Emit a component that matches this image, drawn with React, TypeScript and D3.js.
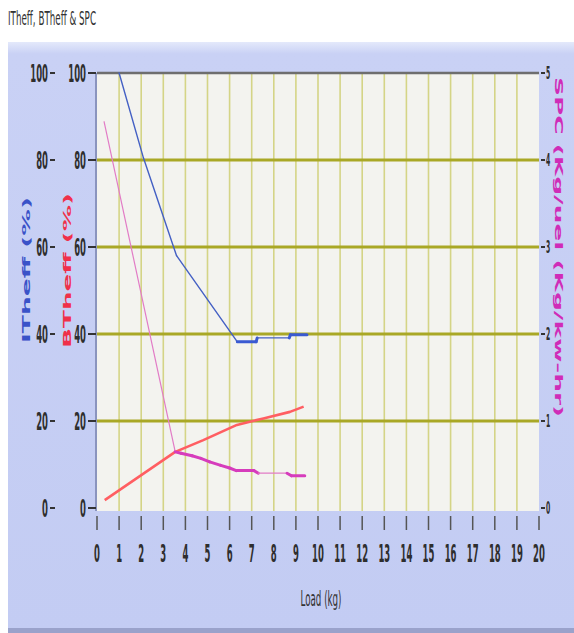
import React from "react"
import { scaleLinear, line } from "d3"

// tick labels
const xTicks = [0, 1, 2, 3, 4, 5, 6, 7, 8, 9, 10, 11, 12, 13, 14, 15, 16, 17, 18, 19, 20]
const pctTicks = [0, 20, 40, 60, 80, 100]
const spcTicks = [0, 1, 2, 3, 4, 5]

// series
const itheffLoad = [1, 2.1, 3.6, 6.35, 7.2, 7.25, 8.7, 8.75, 9.5]
const itheff = [100, 80.5, 58, 38.2, 38.2, 39.1, 39.1, 39.8, 39.8]
const btheffLoad = [0.35, 3.54, 4.81, 6.33, 7.53, 8.73, 9.35]
const btheff = [1.8, 12.9, 15.6, 19.1, 20.6, 22.1, 23.3]
const spcLoad = [0.32, 3.54, 3.8, 4.3, 4.7, 5.1, 5.6, 6.0, 6.3, 7.1, 7.3, 8.6, 8.8, 9.4]
const spc = [4.44, 0.645, 0.63, 0.6, 0.57, 0.53, 0.49, 0.46, 0.43, 0.43, 0.4, 0.4, 0.37, 0.37]

const FONT = "DejaVu Sans"
const SQ = 0.34 // horizontal squash of the original picture

type P = [number, number]

const App = () => {
  const width = 574
  const height = 633
  const plot = { left: 97, right: 539, top: 73, bottom: 508 }

  const x = scaleLinear().domain([0, 20]).range([plot.left, plot.right])
  const yPct = scaleLinear().domain([0, 100]).range([plot.bottom, plot.top])
  const ySpc = scaleLinear().domain([0, 5]).range([plot.bottom, plot.top])

  const lineGen = line<P>()
    .x((d) => x(d[0]))
    .y((d) => d[1])

  const itheffPts: P[] = itheffLoad.map((l, i) => [l, yPct(itheff[i])])
  const btheffPts: P[] = btheffLoad.map((l, i) => [l, yPct(btheff[i])])
  const spcPts: P[] = spcLoad.map((l, i) => [l, ySpc(spc[i])])

  // sparse (long) segments are drawn thin, dense ones thick
  const segments = (pts: P[], thin: number, thick: number, c1: string, c2: string) =>
    pts.slice(1).map((p, i) => {
      const long = p[0] - pts[i][0] >= 1
      return (
        <path
          key={i}
          d={lineGen([pts[i], p]) ?? ""}
          stroke={long ? c1 : c2}
          strokeWidth={long ? thin : thick}
          fill="none"
          strokeLinecap="round"
        />
      )
    })

  const sqText = (
    key: string | number,
    tx: number,
    ty: number,
    txt: string,
    size: number,
    anchor: string,
    fill = "#2e2e2e",
  ) => (
    <text
      key={key}
      transform={`translate(${tx},${ty}) scale(${SQ},1)`}
      fontSize={size}
      fontFamily={FONT}
      fontWeight="bold"
      textAnchor={anchor}
      fill={fill}
    >
      {txt}
    </text>
  )

  return (
    <div style={{ position: "absolute", left: 0, top: 0 }}>
      <svg width={width} height={height} style={{ display: "block" }}>
        <defs>
          <linearGradient id="panel" x1="0" y1="0" x2="0" y2="1">
            <stop offset="0" stopColor="#e4e9fb" />
            <stop offset="0.02" stopColor="#c9d1f5" />
            <stop offset="1" stopColor="#c3ccf3" />
          </linearGradient>
        </defs>
        <rect width={width} height={height} fill="#fff" />
        <rect x={8} y={42} width={width - 8} height={height - 42} fill="url(#panel)" />
        <rect x={8} y={628} width={width - 8} height={5} fill="#9aa2cb" />

        {/* title */}
        <text
          x={8}
          y={25}
          fontSize={19}
          fontFamily={FONT}
          fill="#333"
          textLength={88}
          lengthAdjust="spacingAndGlyphs"
        >
          ITheff, BTheff &amp; SPC
        </text>

        {/* plot background */}
        <rect
          x={plot.left}
          y={plot.top}
          width={plot.right - plot.left}
          height={plot.bottom - plot.top + 3}
          fill="#f3f3ef"
        />

        {/* vertical grid */}
        {xTicks.slice(1, -1).map((t) => (
          <line
            key={t}
            x1={x(t)}
            x2={x(t)}
            y1={plot.top}
            y2={plot.bottom + 3}
            stroke="#d4d486"
            strokeWidth={1.6}
          />
        ))}

        {/* horizontal grid */}
        {pctTicks.slice(1, -1).map((t) => (
          <line
            key={t}
            x1={plot.left}
            x2={plot.right}
            y1={yPct(t)}
            y2={yPct(t)}
            stroke="#a9a826"
            strokeWidth={3}
          />
        ))}
        <line
          x1={plot.left}
          x2={plot.right}
          y1={plot.top}
          y2={plot.top}
          stroke="#6e6e6e"
          strokeWidth={2.5}
        />
        <line
          x1={plot.left - 1}
          x2={plot.left - 1}
          y1={plot.top}
          y2={plot.bottom + 3}
          stroke="#8a94be"
          strokeWidth={2}
        />

        {/* series */}
        {segments(itheffPts, 1.4, 3, "#4460c4", "#3a5ad2")}
        <path
          d={lineGen(btheffPts) ?? ""}
          stroke="#ff5e62"
          strokeWidth={2.6}
          fill="none"
          strokeLinejoin="round"
        />
        {segments(spcPts, 1.2, 3, "#e27cc6", "#d63cbc")}

        {/* left axes */}
        {pctTicks.map((t) => (
          <g key={t}>
            <line x1={50} x2={55} y1={yPct(t)} y2={yPct(t)} stroke="#333" strokeWidth={2} />
            {sqText("o" + t, 48, yPct(t) + 9, String(t), 25, "end")}
            <line x1={88} x2={96} y1={yPct(t)} y2={yPct(t)} stroke="#333" strokeWidth={2} />
            {sqText("i" + t, 86, yPct(t) + 9, String(t), 25, "end")}
          </g>
        ))}

        {/* right axis */}
        {spcTicks.map((t) => (
          <g key={t}>
            <line x1={541} x2={545} y1={ySpc(t)} y2={ySpc(t)} stroke="#333" strokeWidth={2} />
            {sqText("r" + t, 546, ySpc(t) + 6, String(t), 18, "start")}
          </g>
        ))}

        {/* bottom axis */}
        {xTicks.map((t) => (
          <g key={t}>
            <line x1={x(t)} x2={x(t)} y1={516} y2={530} stroke="#555" strokeWidth={1.5} />
            {sqText("b" + t, x(t), 562, String(t), 25, "middle")}
          </g>
        ))}

        {/* axis titles */}
        <text
          transform="translate(321,606)"
          fontSize={22}
          fontFamily={FONT}
          fill="#333"
          textAnchor="middle"
          textLength={41}
          lengthAdjust="spacingAndGlyphs"
        >
          Load (kg)
        </text>
        <text
          transform="translate(30,343) rotate(-90)"
          fontSize={11}
          fontFamily={FONT}
          fontWeight="bold"
          fill="#3a52c8"
          textLength={146}
          lengthAdjust="spacingAndGlyphs"
        >
          ITheff (%)
        </text>
        <text
          transform="translate(71,348) rotate(-90)"
          fontSize={11}
          fontFamily={FONT}
          fontWeight="bold"
          fill="#f0304a"
          textLength={155}
          lengthAdjust="spacingAndGlyphs"
        >
          BTheff (%)
        </text>
        <text
          transform="translate(555,77) rotate(90)"
          fontSize={11}
          fontFamily={FONT}
          fontWeight="bold"
          fill="#d02cb8"
          textLength={340}
          lengthAdjust="spacingAndGlyphs"
        >
          SPC (Kg/uel (Kg/kw-hr)
        </text>
      </svg>
    </div>
  )
}

export default App
